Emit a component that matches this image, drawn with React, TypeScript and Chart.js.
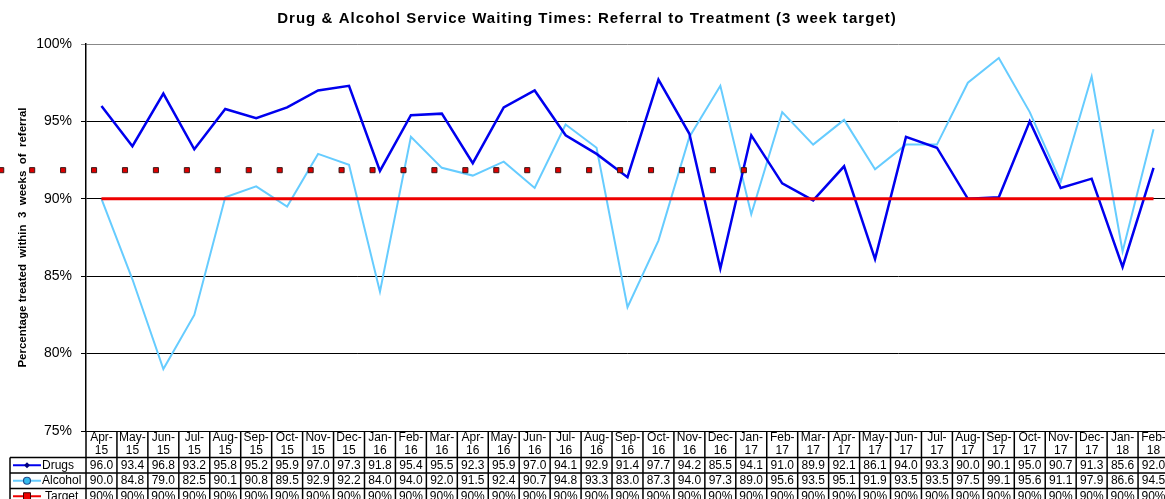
import React, { useEffect, useRef } from 'react';
import { Chart, registerables } from 'chart.js';

Chart.register(...registerables);

const months = [
  'Apr-15', 'May-15', 'Jun-15', 'Jul-15', 'Aug-15', 'Sep-15', 'Oct-15', 'Nov-15', 'Dec-15', 'Jan-16', 'Feb-16', 'Mar-16',
  'Apr-16', 'May-16', 'Jun-16', 'Jul-16', 'Aug-16', 'Sep-16', 'Oct-16', 'Nov-16', 'Dec-16', 'Jan-17', 'Feb-17', 'Mar-17',
  'Apr-17', 'May-17', 'Jun-17', 'Jul-17', 'Aug-17', 'Sep-17', 'Oct-17', 'Nov-17', 'Dec-17', 'Jan-18', 'Feb-18',
];

const drugs = [
  96.0, 93.4, 96.8, 93.2, 95.8, 95.2, 95.9, 97.0, 97.3, 91.8, 95.4, 95.5,
  92.3, 95.9, 97.0, 94.1, 92.9, 91.4, 97.7, 94.2, 85.5, 94.1, 91.0, 89.9,
  92.1, 86.1, 94.0, 93.3, 90.0, 90.1, 95.0, 90.7, 91.3, 85.6, 92.0,
];

const alcohol = [
  90.0, 84.8, 79.0, 82.5, 90.1, 90.8, 89.5, 92.9, 92.2, 84.0, 94.0, 92.0,
  91.5, 92.4, 90.7, 94.8, 93.3, 83.0, 87.3, 94.0, 97.3, 89.0, 95.6, 93.5,
  95.1, 91.9, 93.5, 93.5, 97.5, 99.1, 95.6, 91.1, 97.9, 86.6, 94.5,
];

const target = [
  90, 90, 90, 90, 90, 90, 90, 90, 90, 90, 90, 90,
  90, 90, 90, 90, 90, 90, 90, 90, 90, 90, 90, 90,
  90, 90, 90, 90, 90, 90, 90, 90, 90, 90, 90,
];

// stray dotted marker row seen in the picture (x in category-index units)
const dottedX = [
  -3.24, -2.24, -1.24, -0.24, 0.76, 1.76, 2.76, 3.76, 4.76, 5.76, 6.76, 7.76, 8.76,
  9.76, 10.76, 11.76, 12.76, 13.76, 14.76, 15.76, 16.76, 17.76, 18.76, 19.76, 20.76,
];
const dottedY = [
  91.85, 91.85, 91.85, 91.85, 91.85, 91.85, 91.85, 91.85, 91.85, 91.85, 91.85, 91.85, 91.85,
  91.85, 91.85, 91.85, 91.85, 91.85, 91.85, 91.85, 91.85, 91.85, 91.85, 91.85, 91.85,
];

const yTicks = [75, 80, 85, 90, 95, 100];

const TITLE = 'Drug & Alcohol Service Waiting Times: Referral to Treatment (3 week target)';
const Y_TITLE = 'Percentage treated  within  3  weeks  of  referral';
const FONT = '"Liberation Sans", Arial, Helvetica, sans-serif';

const DRUG_COLOR = '#0000EE';
const ALC_COLOR = '#66CCFF';
const TARGET_COLOR = '#EE0000';

const titlePlugin = {
  id: 'customTitle',
  afterDraw(chart: any) {
    const ctx = chart.ctx;
    ctx.save();
    ctx.font = `bold 15px ${FONT}`;
    try { (ctx as any).letterSpacing = '1.05px'; } catch (e) { /* ignore */ }
    ctx.fillStyle = '#000';
    ctx.textAlign = 'center';
    ctx.textBaseline = 'middle';
    ctx.fillText(TITLE, 587, 19);
    ctx.restore();
  },
};

// draw the marker dataset's points even where they fall outside the plot area
const unclippedPointsPlugin = {
  id: 'unclippedPoints',
  beforeDatasetDraw(chart: any, args: any) {
    if (args.index !== 0) return;
    const bigArea = { left: -10000, top: -10000, right: 10000, bottom: 10000 };
    const ctx = chart.ctx;
    ctx.save();
    args.meta.data.forEach((el: any) => el.draw(ctx, bigArea));
    ctx.restore();
    return false;
  },
};

const tablePlugin = {
  id: 'dataTable',
  afterDraw(chart: any) {
    const ctx = chart.ctx;
    const xs = chart.scales.x;
    const area = chart.chartArea;
    const n = months.length;
    const w = (area.right - area.left) / n;
    const top = area.bottom;
    const rows = [top, top + 26.5, top + 42, top + 57.5, top + 73];
    const legendLeft = 10;

    ctx.save();
    ctx.strokeStyle = '#000';
    ctx.lineWidth = 1.5;
    const line = (x1: number, y1: number, x2: number, y2: number) => {
      ctx.beginPath();
      ctx.moveTo(x1, y1);
      ctx.lineTo(x2, y2);
      ctx.stroke();
    };
    for (let r = 1; r < rows.length; r++) line(legendLeft, rows[r], area.right, rows[r]);
    for (let i = 0; i <= n; i++) {
      const x = area.left + i * w;
      line(x, top, x, rows[4]);
    }
    line(legendLeft, rows[1], legendLeft, rows[4]);

    ctx.font = `12px ${FONT}`;
    ctx.fillStyle = '#000';
    ctx.textAlign = 'center';
    ctx.textBaseline = 'middle';
    const mid = (r: number) => (rows[r] + rows[r + 1]) / 2;
    months.forEach((m, i) => {
      const x = xs.getPixelForValue(i);
      const [a, b] = m.split('-');
      ctx.fillText(a + '-', x, top + 6.5);
      ctx.fillText(b, x, top + 20);
      ctx.fillText(drugs[i].toFixed(1), x, mid(1));
      ctx.fillText(alcohol[i].toFixed(1), x, mid(2));
      ctx.fillText(target[i] + '%', x, mid(3));
    });

    // legend keys
    const keys = [
      { label: 'Drugs', color: DRUG_COLOR, marker: 'diamond', r: 1, tx: 42 },
      { label: 'Alcohol', color: ALC_COLOR, marker: 'circle', r: 2, tx: 42 },
      { label: 'Target', color: TARGET_COLOR, marker: 'square', r: 3, tx: 45 },
    ];
    keys.forEach((k) => {
      const y = mid(k.r);
      ctx.strokeStyle = k.color;
      ctx.lineWidth = 2;
      line(13, y, 41, y);
      const cx = 27;
      ctx.beginPath();
      if (k.marker === 'diamond') {
        ctx.moveTo(cx, y - 3); ctx.lineTo(cx + 3, y); ctx.lineTo(cx, y + 3); ctx.lineTo(cx - 3, y); ctx.closePath();
        ctx.fillStyle = '#000080';
        ctx.fill();
      } else if (k.marker === 'circle') {
        ctx.arc(cx, y, 3.5, 0, Math.PI * 2);
        ctx.fillStyle = '#33BBEE';
        ctx.fill();
        ctx.lineWidth = 1.2;
        ctx.strokeStyle = '#1f4f8f';
        ctx.stroke();
      } else {
        ctx.rect(cx - 3.5, y - 3.5, 7, 7);
        ctx.fillStyle = '#EE0000';
        ctx.fill();
        ctx.lineWidth = 1;
        ctx.strokeStyle = '#400000';
        ctx.stroke();
      }
      ctx.fillStyle = '#000';
      ctx.textAlign = 'left';
      ctx.fillText(k.label, k.tx, y);
    });
    ctx.restore();
  },
};

export default function App() {
  const canvasRef = useRef<HTMLCanvasElement | null>(null);

  useEffect(() => {
    if (!canvasRef.current) return;
    const chart = new Chart(canvasRef.current, {
      type: 'line',
      data: {
        labels: months,
        datasets: [
          {
            label: 'markers',
            data: dottedX.map((x, i) => ({ x, y: dottedY[i] })),
            xAxisID: 'x2',
            showLine: false,
            clip: false as any,
            pointStyle: 'rect',
            pointRadius: 3.6,
            pointBackgroundColor: '#DD0000',
            pointBorderColor: '#3a1a1a',
            pointBorderWidth: 1,
          } as any,
          {
            label: 'Target',
            data: target,
            borderColor: TARGET_COLOR,
            borderWidth: 3,
            pointRadius: 0,
            tension: 0,
          },
          {
            label: 'Drugs',
            data: drugs,
            borderColor: DRUG_COLOR,
            borderWidth: 2.5,
            pointRadius: 0,
            tension: 0,
          },
          {
            label: 'Alcohol',
            data: alcohol,
            borderColor: ALC_COLOR,
            borderWidth: 2,
            pointRadius: 0,
            tension: 0,
          },
        ],
      },
      options: {
        responsive: false,
        animation: false,
        events: [],
        layout: { padding: { top: 44, bottom: 68, left: 0, right: 0 } },
        plugins: {
          legend: { display: false },
          tooltip: { enabled: false },
          title: { display: false },
        },
        scales: {
          x: {
            type: 'category',
            display: false,
            offset: true,
          },
          x2: {
            type: 'linear',
            display: false,
            bounds: 'data',
            grace: 0,
            afterDataLimits: (scale: any) => {
              scale.min = -0.5;
              scale.max = months.length - 0.5;
            },
          },
          y: {
            min: yTicks[0],
            max: yTicks[yTicks.length - 1],
            afterBuildTicks: (scale: any) => {
              scale.ticks = yTicks.map((v) => ({ value: v }));
            },
            afterFit: (scale: any) => {
              scale.width = 86;
            },
            ticks: {
              callback: (v: any) => `${v}%`,
              font: { family: FONT, size: 14 },
              color: '#000',
              padding: 9,
            },
            grid: {
              color: (c: any) => (c.tick && c.tick.value === 100 ? '#888888' : '#000000'),
              lineWidth: 1,
              tickLength: 5,
            },
            border: { display: true, color: '#000', width: 1.5 },
            title: {
              display: true,
              text: Y_TITLE,
              font: { family: FONT, size: 11.5, weight: 'bold' },
              color: '#000',
              padding: { top: 16, bottom: 0 },
            },
          },
        },
      },
      plugins: [unclippedPointsPlugin, titlePlugin, tablePlugin],
    });
    return () => chart.destroy();
  }, []);

  return (
    <div
      style={{
        position: 'fixed',
        left: 0,
        top: 0,
        width: 1165,
        height: 499,
        overflow: 'hidden',
        background: '#fff',
      }}
    >
      <canvas ref={canvasRef} width={1174} height={499} style={{ display: 'block' }} />
    </div>
  );
}
